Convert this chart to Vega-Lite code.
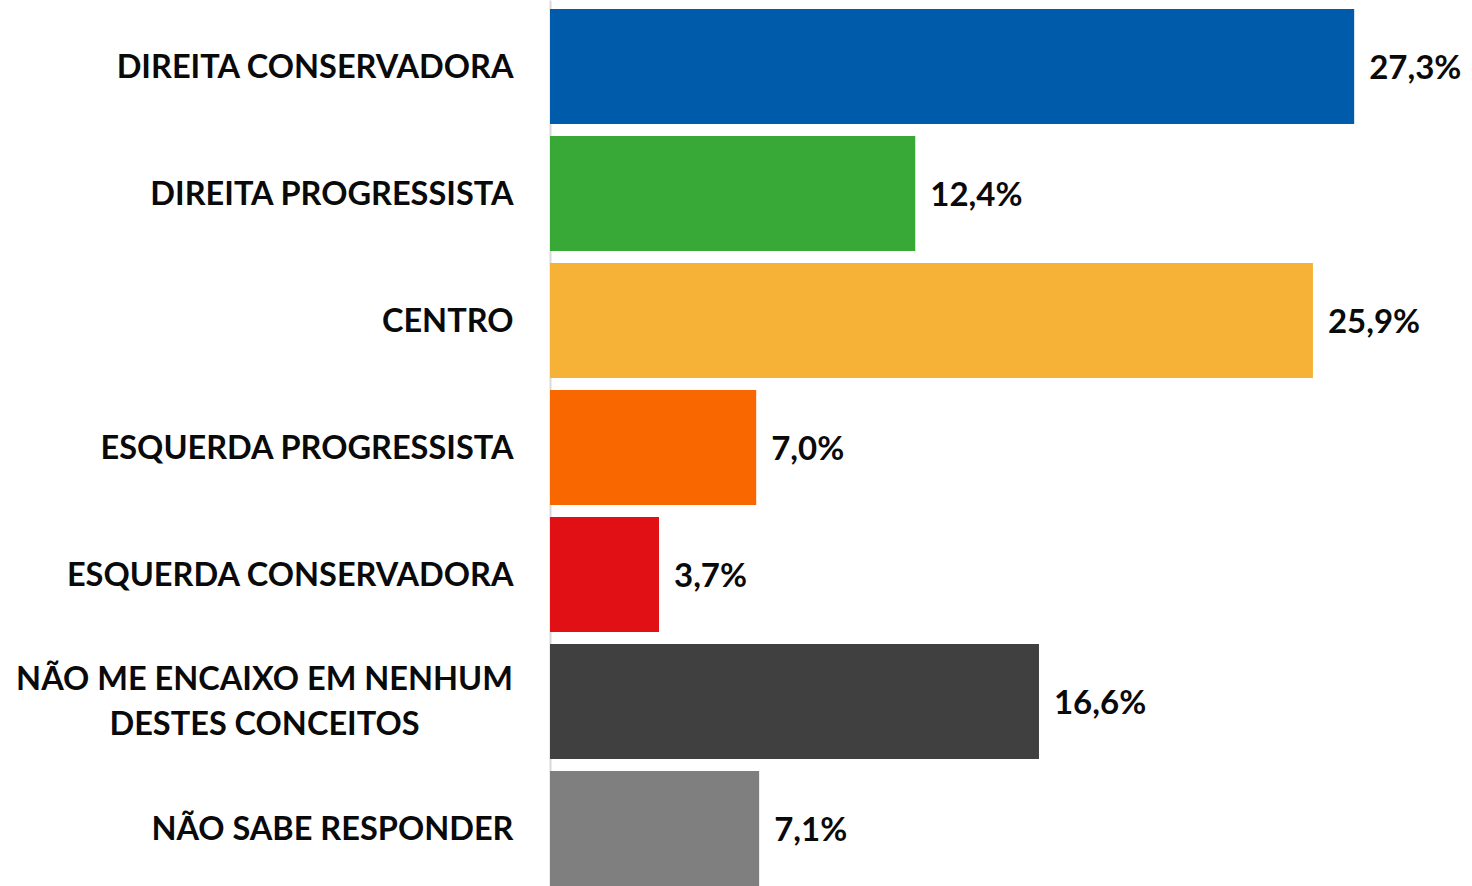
{
  "$schema": "https://vega.github.io/schema/vega-lite/v6.json",
  "width": 922,
  "height": 886,
  "autosize": {"type": "none"},
  "padding": {"left": 550, "top": 0, "right": 0, "bottom": 0},
  "background": "white",
  "config": {"view": {"stroke": null}},
  "data": {
    "values": [
      {"cat": "DIREITA CONSERVADORA", "value": 27.3, "label": "27,3%", "color": "#005BAA"},
      {"cat": "DIREITA PROGRESSISTA", "value": 12.4, "label": "12,4%", "color": "#38A936"},
      {"cat": "CENTRO", "value": 25.9, "label": "25,9%", "color": "#F6B236"},
      {"cat": "ESQUERDA PROGRESSISTA", "value": 7.0, "label": "7,0%", "color": "#F96800"},
      {"cat": "ESQUERDA CONSERVADORA", "value": 3.7, "label": "3,7%", "color": "#E01015"},
      {"cat": "NÃO ME ENCAIXO EM NENHUM|DESTES CONCEITOS", "value": 16.6, "label": "16,6%", "color": "#404040"},
      {"cat": "NÃO SABE RESPONDER", "value": 7.1, "label": "7,1%", "color": "#7F7F7F"}
    ]
  },
  "encoding": {
    "y": {
      "field": "cat",
      "type": "nominal",
      "sort": null,
      "scale": {"paddingInner": 0.094, "paddingOuter": 0.035, "align": 1},
      "axis": {
        "title": null,
        "ticks": false,
        "domainColor": "#D9D9D9",
        "domainWidth": 2,
        "labelExpr": "split(datum.label, '|')",
        "labelFont": "Lato",
        "labelFontWeight": "bold",
        "labelFontSize": 32.5,
        "labelColor": "#0A0A0A",
        "labelLineHeight": 45,
        "labelLimit": 600,
        "labelAlign": {"condition": {"test": "indexof(datum.label, '|') >= 0", "value": "center"}, "value": "right"},
        "labelPadding": {"condition": {"test": "indexof(datum.label, '|') >= 0", "value": 286}, "value": 37},
        "labelOffset": {"condition": {"test": "indexof(datum.label, '|') >= 0", "value": -21}, "value": 2}
      }
    },
    "x": {
      "field": "value",
      "type": "quantitative",
      "scale": {"domain": [0, 31.3]},
      "axis": null
    }
  },
  "layer": [
    {
      "mark": {"type": "bar"},
      "encoding": {
        "color": {"field": "color", "type": "nominal", "scale": null, "legend": null}
      }
    },
    {
      "mark": {"type": "text", "align": "left", "baseline": "middle", "dx": 15, "dy": 3, "font": "Lato", "fontWeight": "bold", "fontSize": 33, "color": "#0A0A0A"},
      "encoding": {"text": {"field": "label"}}
    }
  ]
}
